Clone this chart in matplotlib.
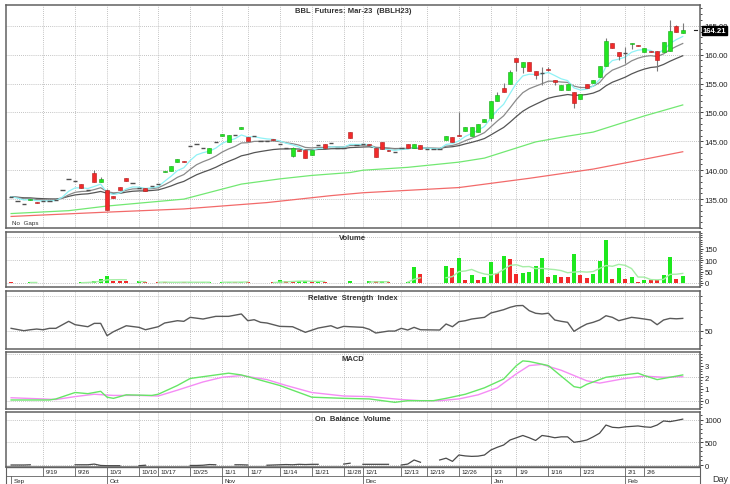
import matplotlib
matplotlib.use('Agg')
import matplotlib.pyplot as plt
from matplotlib.ticker import MultipleLocator, FormatStrFormatter, FixedLocator
import numpy as np
import pandas as pd

plt.rcParams['font.family'] = ['Liberation Sans', 'DejaVu Sans']

# trading calendar (exchange holidays removed)
holidays = ['2022-10-13', '2022-10-14', '2022-10-24', '2022-12-05', '2022-12-12', '2023-01-02']
days = pd.bdate_range('2022-09-12', '2023-02-14')
days = days[~days.isin(pd.to_datetime(holidays))]
day_names = ['%d/%d' % (d.month, d.day) for d in days]
pos = {n: i for i, n in enumerate(day_names)}
x = np.arange(len(days))

opens = [135.4, 134.7, 134.2, 134.8, 134.5, 134.6, 134.7, 134.9, 136.5, 138.4,
         138.1, 137.6, 136.6, 139.6, 138.0, 136.5, 135.6, 137.1, 138.6, 137.8,
         137.0, 136.9, 137.2, 137.6, 139.7, 139.9, 141.5, 141.6, 144.2, 144.6,
         143.8, 143.0, 144.9, 145.9, 144.9, 146.1, 147.1, 145.7, 146.0, 145.1,
         145.1, 145.4, 144.5, 143.9, 142.5, 143.5, 143.5, 142.7, 144.4, 144.6,
         144.7, 143.9, 143.9, 146.7, 144.4, 144.5, 144.6, 143.9, 144.8, 143.5,
         143.2, 143.9, 144.5, 143.8, 144.4, 143.7, 143.6, 143.6, 145.2, 145.7,
         146.1, 146.8, 146.0, 146.6, 148.3, 149.0, 152.0, 154.3, 154.9, 159.4,
         157.9, 158.7, 157.2, 156.9, 157.6, 155.7, 153.9, 153.9, 153.5, 152.3,
         154.9, 155.1, 156.1, 158.0, 162.0, 160.5, 160.3, 161.8, 161.6, 160.5,
         160.6, 160.7, 160.5, 160.7, 165.0, 163.8]
highs = [135.4, 134.7, 134.2, 135.1, 134.5, 134.6, 134.7, 134.9, 136.5, 138.4,
         138.1, 137.6, 136.6, 140.0, 138.9, 136.8, 135.6, 137.1, 138.6, 137.8,
         137.0, 136.9, 137.2, 137.6, 139.9, 140.7, 141.9, 141.6, 144.2, 144.6,
         143.8, 143.8, 144.9, 146.3, 146.1, 146.1, 147.4, 145.7, 146.0, 145.1,
         145.1, 145.4, 144.5, 143.9, 144.0, 143.5, 143.5, 143.5, 144.4, 144.6,
         144.7, 143.9, 143.9, 146.7, 144.4, 144.5, 144.6, 143.9, 144.8, 143.5,
         143.2, 143.9, 144.5, 144.5, 144.4, 143.7, 143.6, 143.6, 146.0, 145.7,
         150.0, 147.4, 147.4, 148.0, 148.9, 152.0, 153.5, 155.1, 157.3, 159.4,
         158.8, 158.7, 157.2, 157.8, 157.8, 155.7, 154.7, 154.9, 153.5, 153.2,
         154.9, 155.6, 158.0, 162.9, 162.0, 160.5, 161.3, 162.1, 161.6, 161.1,
         160.6, 160.7, 162.2, 166.0, 165.2, 165.5]
lows = [135.4, 134.7, 134.2, 134.8, 134.3, 134.6, 134.7, 134.9, 136.5, 138.4,
        138.1, 137.0, 136.6, 137.9, 138.0, 133.1, 135.2, 136.5, 138.2, 137.8,
        137.0, 136.4, 137.2, 137.6, 139.7, 139.9, 141.5, 141.4, 144.2, 144.6,
        143.8, 143.0, 144.9, 145.9, 144.9, 146.1, 147.1, 145.0, 146.0, 145.1,
        145.1, 145.2, 144.5, 143.9, 142.3, 143.3, 142.1, 142.7, 144.4, 143.8,
        144.7, 143.9, 143.9, 145.5, 144.4, 144.5, 144.4, 142.3, 143.6, 143.3,
        143.2, 143.9, 143.8, 143.8, 143.7, 143.7, 143.6, 143.6, 145.2, 144.9,
        145.9, 146.8, 146.0, 146.6, 148.3, 148.6, 152.0, 153.5, 154.9, 157.2,
        156.9, 157.2, 155.8, 154.7, 157.2, 154.7, 153.9, 153.9, 150.7, 152.3,
        154.3, 155.1, 156.1, 158.0, 161.1, 159.1, 158.5, 161.0, 161.5, 160.5,
        160.4, 157.1, 160.5, 160.7, 164.0, 163.8]
closes = [135.4, 134.7, 134.2, 135.1, 134.3, 134.6, 134.7, 134.9, 136.5, 138.4,
          138.1, 137.0, 136.6, 137.9, 138.4, 133.2, 135.2, 136.5, 138.2, 137.8,
          137.0, 136.4, 137.2, 137.6, 139.9, 140.7, 141.9, 141.4, 144.2, 144.6,
          143.8, 143.8, 144.9, 146.3, 146.1, 146.1, 147.4, 145.0, 146.0, 145.1,
          145.1, 145.2, 144.5, 143.9, 143.8, 143.3, 142.1, 143.5, 144.4, 143.8,
          144.7, 143.9, 143.9, 145.5, 144.4, 144.5, 144.4, 142.3, 143.6, 143.3,
          143.2, 143.9, 143.8, 144.5, 143.7, 143.7, 143.6, 143.6, 146.0, 144.9,
          146.0, 147.4, 147.4, 148.0, 148.9, 152.0, 153.0, 153.5, 157.0, 158.7,
          158.8, 157.2, 156.5, 156.9, 157.4, 155.3, 154.7, 154.9, 151.7, 153.2,
          154.3, 155.6, 158.0, 162.4, 161.1, 159.7, 160.3, 162.1, 161.5, 161.1,
          160.4, 159.0, 162.2, 164.1, 164.0, 164.21]
volume = [3, 0, 0, 6, 2, 0, 0, 0, 0, 0,
          0, 6, 6, 10, 17, 30, 8, 8, 8, 0,
          8, 4, 0, 4, 4, 3, 4, 3, 3, 3,
          4, 4, 0, 5, 5, 4, 5, 4, 0, 0,
          0, 5, 14, 7, 7, 8, 7, 7, 6, 6,
          0, 0, 0, 10, 0, 0, 10, 7, 7, 6,
          0, 0, 5, 70, 40, 0, 0, 0, 75, 65,
          110, 12, 35, 15, 25, 90, 45, 120, 105, 40,
          45, 50, 75, 110, 25, 33, 28, 28, 125, 35,
          22, 40, 95, 190, 18, 65, 18, 25, 5, 15,
          12, 12, 35, 115, 18, 30]
# bar colour of each volume bar: g = green, r = red, - = no bar
volume_colors = list('r--gr-----' '-gggggrrr-' 'gr-rrrgrgr' 'gg-ggrgr--' '-rgrrggrgr'
                     '---g--grgr' '--ggr---gr' 'grgrggrgrr' 'ggggrgrrgr' 'rgggrgrgrg'
                     'rrggrg')
nan = np.nan
obv = [0, 0, 0, 5, nan, nan, nan, nan, nan, nan,
       5, 5, 5, 20, -10, -15, -15, -15, nan, nan,
       -15, -5, nan, nan, nan, nan, nan, nan, -10, -10,
       -5, 10, 5, nan, nan, 5, 5, 0, nan, nan,
       -5, 0, 5, 10, 5, 15, 10, 15, 15, nan,
       nan, nan, 20, 40, nan, 15, 15, 15, 15, 15,
       nan, 0, 20, 110, 60, nan, nan, 110, 150, 80,
       220, 200, 190, 195, 220, 330, 390, 440, 550, 600,
       650, 600, 540, 650, 630, 600, 620, 620, 500, 520,
       550, 620, 700, 880, 830, 820, 840, 850, 860, 840,
       830, 880, 970, 955, 980, 1010]

# long moving averages
green_ma_days = ['9/12', '9/23', '10/3', '10/17', '10/21', '11/4', '11/14', '11/21', '11/29', '12/1',
                 '12/14', '12/26', '12/30', '1/6', '1/12', '1/19', '1/25', '1/31', '2/6', '2/14']
green_ma = [132.5, 133.0, 133.8, 134.6, 135.0, 137.6, 138.5, 139.1, 139.6, 140.0,
            140.5, 141.4, 142.1, 143.5, 144.9, 145.9, 146.6, 148.0, 149.4, 151.3]
red_ma_days = ['9/12', '9/30', '10/21', '11/10', '11/24', '12/1', '12/26', '1/11', '1/25', '2/6', '2/14']
red_ma = [132.0, 132.7, 133.3, 134.4, 135.6, 136.1, 137.0, 138.6, 140.2, 141.9, 143.2]

rsi_days = ['9/12', '9/14', '9/15', '9/16', '9/19', '9/20', '9/21', '9/23', '9/26', '9/28',
            '9/29', '9/30', '10/3', '10/4', '10/6', '10/10', '10/11', '10/17', '10/18', '10/20',
            '10/21', '10/25', '10/27', '10/31', '11/2', '11/4', '11/7', '11/8', '11/9', '11/10',
            '11/14', '11/16', '11/18', '11/22', '11/24', '11/25', '11/28', '11/29', '12/1', '12/2',
            '12/6', '12/8', '12/9', '12/13', '12/14', '12/15', '12/16', '12/21', '12/22', '12/23',
            '12/26', '12/27', '12/28', '12/30', '1/3', '1/4', '1/5', '1/6', '1/9', '1/10',
            '1/11', '1/12', '1/13', '1/16', '1/17', '1/18', '1/19', '1/20', '1/23', '1/24',
            '1/25', '1/26', '1/27', '1/30', '1/31', '2/1', '2/2', '2/3', '2/6', '2/7',
            '2/8', '2/9', '2/10', '2/13', '2/14']
rsi = [53.4, 50.0, 51.4, 52.4, 51.4, 53.4, 53.4, 63.4, 58.6, 55.7,
       60.5, 60.5, 42.9, 48.6, 57.1, 54.8, 51.4, 55.7, 61.0, 64.3,
       63.4, 69.1, 66.7, 70.5, 70.5, 73.9, 64.3, 65.7, 62.0, 61.0,
       56.2, 55.7, 47.7, 53.8, 57.1, 53.4, 56.2, 55.7, 54.8, 52.0,
       46.7, 49.5, 49.5, 53.4, 51.0, 54.8, 51.4, 51.0, 59.6, 55.7,
       62.9, 64.3, 66.7, 69.1, 75.3, 77.6, 80.0, 83.4, 85.7, 86.0,
       78.6, 74.9, 73.9, 75.0, 65.3, 63.4, 62.0, 49.1, 54.8, 59.6,
       62.0, 65.3, 71.4, 69.1, 64.3, 66.7, 69.1, 68.0, 66.7, 65.3,
       58.6, 65.3, 67.6, 67.0, 67.6]

macd_days = ['9/12', '9/15', '9/20', '9/21', '9/26', '9/28', '9/30', '10/3', '10/4', '10/6',
             '10/12', '10/17', '10/20', '10/25', '10/31', '11/2', '11/4', '11/14', '11/21', '11/28',
             '12/2', '12/9', '12/14', '12/20', '12/22', '12/27', '12/30', '1/5', '1/9', '1/10',
             '1/11', '1/16', '1/18', '1/20', '1/23', '1/24', '1/27', '1/31', '2/3', '2/6',
             '2/8', '2/10', '2/14']
macd = [0.06, 0.06, 0.06, 0.15, 0.7, 0.6, 0.8, 0.3, 0.2, 0.5,
        0.45, 0.55, 1.3, 1.9, 2.2, 2.35, 2.2, 1.3, 0.3, 0.2,
        0.15, -0.14, 0.0, 0.0, 0.2, 0.55, 1.1, 1.85, 3.0, 3.4,
        3.35, 3.0, 2.1, 1.2, 1.1, 1.4, 2.0, 2.15, 2.35, 2.15,
        1.8, 2.0, 2.2]
signal_days = ['9/12', '9/19', '9/21', '9/26', '9/29', '10/4', '10/10', '10/17', '10/20', '10/27',
               '11/1', '11/4', '11/10', '11/15', '11/21', '11/28', '12/2', '12/13', '12/16', '12/21',
               '12/26', '12/29', '1/4', '1/9', '1/11', '1/13', '1/18', '1/24', '1/26', '2/1',
               '2/6', '2/9', '2/14']
signal = [0.25, 0.15, 0.1, 0.35, 0.55, 0.45, 0.45, 0.4, 0.9, 1.6,
          2.0, 2.15, 1.8, 1.3, 0.7, 0.4, 0.35, 0.1, 0.0, 0.0,
          0.15, 0.5, 1.1, 2.3, 3.0, 3.1, 2.6, 1.7, 1.5, 1.9,
          2.1, 2.0, 2.05]

date_ticks = ['9/19', '9/26', '10/3', '10/10', '10/17', '10/25', '11/1', '11/7', '11/14', '11/21',
              '11/28', '12/1', '12/13', '12/19', '12/26', '1/3', '1/9', '1/16', '1/23', '2/1', '2/6']
month_starts = ['9/12', '10/3', '11/1', '12/1', '1/3', '2/1']
month_names = ['Sep', 'Oct', 'Nov', 'Dec', 'Jan', 'Feb']

o = np.array(opens); h = np.array(highs); l = np.array(lows); c = np.array(closes)
v = np.array(volume, dtype=float)
vc = np.array(volume_colors)
at = lambda names: [pos[n] for n in names]

ema5 = pd.Series(c).ewm(span=5, adjust=False).mean()
ema10 = pd.Series(c).ewm(span=10, adjust=False).mean()
ema20 = pd.Series(c).ewm(span=20, adjust=False).mean()
vol_ma = pd.Series(v).rolling(5, min_periods=1).mean().values
vol_ma = np.where(v > 0, vol_ma, np.nan)

W, H = 730, 485
fig = plt.figure(figsize=(W / 100, H / 100), dpi=100)
left, right = 6, 700

def panel(top, bottom):
    return fig.add_axes([left / W, 1 - bottom / H, (right - left) / W, (bottom - top) / H])

ax = panel(6, 229)
axv = panel(233, 288)
axr = panel(292, 350)
axm = panel(353, 410)
axo = panel(413, 468)
axd = panel(468, 485)

xl = (-0.8, 107.7)
grid_kw = dict(color='#b0b0b0', linestyle=(0, (1, 1.5)), linewidth=0.6)
tick_pos = at(date_ticks)
for a in (ax, axv, axr, axm, axo):
    a.set_xlim(*xl)
    a.set_xticks(tick_pos)
    a.tick_params(axis='x', length=0, labelbottom=False)
    a.yaxis.tick_right()
    a.tick_params(axis='y', which='major', direction='out', length=2.2, width=0.6,
                  labelsize=5.6, pad=1.0, colors='#222222')
    a.tick_params(axis='y', which='minor', direction='out', length=1.3, width=0.5)
    a.grid(True, which='major', **grid_kw)
    a.set_axisbelow(True)
    for s in a.spines.values():
        s.set_color('#606060')
        s.set_linewidth(1.1)

# price panel
rising = c > o
falling = c < o
flat = c == o
ax.vlines(x, l, h, color='#7a7a7a', linewidth=0.8, zorder=2)
ax.bar(x[rising], (c - o)[rising], bottom=o[rising], width=0.62, color='#22e622',
       edgecolor='#15a815', linewidth=0.4, zorder=3)
ax.bar(x[falling], (c - o)[falling], bottom=o[falling], width=0.62, color='#f22a2a',
       edgecolor='#b01818', linewidth=0.4, zorder=3)
ax.hlines(c[flat], x[flat] - 0.35, x[flat] + 0.35, color='#505050', linewidth=1.0, zorder=3)
ax.plot(at(red_ma_days), red_ma, color='#f26a6a', linewidth=0.9, zorder=1)
ax.plot(at(green_ma_days), green_ma, color='#72e872', linewidth=0.9, zorder=1)
ax.plot(x, ema20, color='#555555', linewidth=0.9, zorder=1)
ax.plot(x, ema10, color='#8a8a8a', linewidth=0.9, zorder=1)
ax.plot(x, ema5, color='#8ff2f6', linewidth=0.9, zorder=1)
ax.set_ylim(130.0, 168.6)
ax.yaxis.set_major_locator(FixedLocator([135, 140, 145, 150, 155, 160, 165]))
ax.yaxis.set_minor_locator(MultipleLocator(1))
ax.yaxis.set_major_formatter(FormatStrFormatter('%.2f'))
ax.text(0.5, 0.975, 'BBL  Futures: Mar-23  (BBLH23)', transform=ax.transAxes,
        ha='center', va='center', fontsize=5.5, fontweight='bold', color='#333333')
ax.text(0.008, 0.012, 'No  Gaps', transform=ax.transAxes, ha='left', va='bottom',
        fontsize=4.5, color='#333333')
ax.plot([x[-1] + 1.8, x[-1] + 2.2], [c[-1], c[-1]], color='#222222', linewidth=0.8)
ax.annotate('%.2f' % c[-1], xy=(1, c[-1]), xycoords=('axes fraction', 'data'),
            xytext=(2, 0), textcoords='offset points', ha='left', va='center',
            fontsize=5.6, fontweight='bold', color='white',
            bbox=dict(boxstyle='square,pad=0.12', fc='black', ec='black'))

# volume panel
green_bar = vc == 'g'
red_bar = vc == 'r'
axv.bar(x[green_bar], v[green_bar], width=0.62, color='#1ee81e', linewidth=0, zorder=3)
axv.bar(x[red_bar], v[red_bar], width=0.62, color='#f22a2a', linewidth=0, zorder=3)
axv.plot(x, vol_ma, color='#a6eea6', linewidth=1.0, zorder=4)
axv.set_ylim(-17.5, 223)
axv.yaxis.set_major_locator(FixedLocator([0, 50, 100, 150]))
axv.yaxis.set_minor_locator(MultipleLocator(10))
axv.grid(False, axis='y')
for g in (0, 100, 200):
    axv.axhline(g, **grid_kw, zorder=0)
axv.text(0.5, 0.9, 'Volume', transform=axv.transAxes, ha='center', va='center',
         fontsize=5.5, fontweight='bold', color='#333333')

# RSI panel
axr.plot(at(rsi_days), rsi, color='#5a5a5a', linewidth=1.0)
axr.set_ylim(23.9, 106.7)
axr.yaxis.set_major_locator(FixedLocator([50]))
axr.yaxis.set_minor_locator(MultipleLocator(10))
axr.axhline(100, **grid_kw, zorder=0)
axr.text(0.5, 0.88, 'Relative  Strength  Index', transform=axr.transAxes, ha='center',
         va='center', fontsize=5.5, fontweight='bold', color='#333333')

# MACD panel
axm.plot(at(signal_days), signal, color='#f58cf5', linewidth=1.0)
axm.plot(at(macd_days), macd, color='#66e666', linewidth=1.0)
axm.set_ylim(-0.71, 4.16)
axm.yaxis.set_major_locator(FixedLocator([0, 1, 2, 3]))
axm.yaxis.set_minor_locator(MultipleLocator(0.25))
axm.grid(False, axis='y')
for g in (0, 2, 4):
    axm.axhline(g, **grid_kw, zorder=0)
axm.text(0.5, 0.88, 'MACD', transform=axm.transAxes, ha='center', va='center',
         fontsize=5.5, fontweight='bold', color='#333333')

# OBV panel
axo.plot(x, obv, color='#4a4a4a', linewidth=0.9)
axo.set_ylim(-44, 1167)
axo.yaxis.set_major_locator(FixedLocator([0, 500, 1000]))
axo.yaxis.set_minor_locator(MultipleLocator(100))
axo.text(0.5, 0.88, 'On  Balance  Volume', transform=axo.transAxes, ha='center',
         va='center', fontsize=5.5, fontweight='bold', color='#333333')

# date strip
axd.set_xlim(*xl)
axd.set_ylim(0, 1)
axd.set_xticks([]); axd.set_yticks([])
for s in axd.spines.values():
    s.set_visible(False)
axd.spines['left'].set_visible(True)
axd.spines['left'].set_color('#606060')
axd.spines['right'].set_visible(True)
axd.spines['right'].set_color('#606060')
axd.axhline(0.5, color='#606060', linewidth=0.6)
axd.axhline(1.0, color='#606060', linewidth=1.0)
for p, name in zip(tick_pos, date_ticks):
    axd.plot([p, p], [0.5, 1], color='#606060', linewidth=0.6)
    axd.text(p + 0.4, 0.74, name, fontsize=4.5, ha='left', va='center', color='#222222')
for p, name in zip(at(month_starts), month_names):
    axd.plot([p, p], [0, 0.5], color='#606060', linewidth=0.6)
    axd.text(p + 0.4, 0.22, name, fontsize=4.5, ha='left', va='center', color='#222222')
fig.text(712 / W, 1 - 480 / H, 'Day', fontsize=6.5, ha='left', va='center', color='#333333')

fig.savefig('out.png', dpi=100, facecolor='white')
